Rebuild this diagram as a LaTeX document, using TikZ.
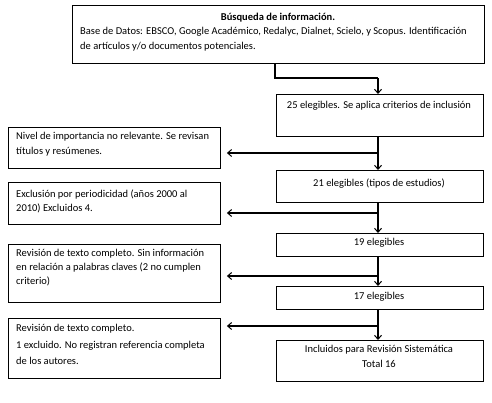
\documentclass[tikz,border=0pt]{standalone}
\usepackage{fontspec}
\setmainfont{Carlito}
\usetikzlibrary{arrows.meta}
\begin{document}
\begin{tikzpicture}[x=1pt,y=-1pt,
  box/.style={draw=black,line width=0.9pt,rectangle,inner sep=0pt},
  txt/.style={inner sep=0pt,anchor=north west,align=left,font=\fontsize{10.5}{14.2}\selectfont},
  ctxt/.style={inner sep=0pt,anchor=north,align=center,font=\fontsize{10.5}{15}\selectfont},
  arr/.style={line width=1.3pt,-{Straight Barb[length=4pt,width=7pt,line width=1pt]}}]
\useasboundingbox (0,0) rectangle (492,402);
% boxes
\node[box,minimum width=412pt,minimum height=58pt,anchor=north west] (T) at (72,5) {};
\node[box,minimum width=207pt,minimum height=42pt,anchor=north west] (B1) at (276,94) {};
\node[box,minimum width=207pt,minimum height=32pt,anchor=north west] (B2) at (276,170) {};
\node[box,minimum width=207pt,minimum height=23pt,anchor=north west] (B3) at (276,233) {};
\node[box,minimum width=207pt,minimum height=23pt,anchor=north west] (B4) at (276,286) {};
\node[box,minimum width=207pt,minimum height=41pt,anchor=north west] (B5) at (276,340) {};
\node[box,minimum width=212pt,minimum height=41pt,anchor=north west] (L1) at (8,127) {};
\node[box,minimum width=212pt,minimum height=42pt,anchor=north west] (L2) at (8,182) {};
\node[box,minimum width=212pt,minimum height=58pt,anchor=north west] (L3) at (8,244) {};
\node[box,minimum width=212pt,minimum height=60pt,anchor=north west] (L4) at (8,318) {};
% texts
\node[ctxt,font=\fontsize{10.5}{14}\selectfont\bfseries] (Tt) at (278,13) {Búsqueda de información.};
\node[txt] (Tb) at (80,27.5) {Base de Datos: EBSCO, Google Académico, Redalyc, Dialnet, Scielo, y Scopus. Identificación\\de artículos y/o documentos potenciales.};
\node[ctxt] (B1t) at (379,101.5) {25 elegibles. Se aplica criterios de inclusión};
\node[ctxt] (B2t) at (379,178.5) {21 elegibles (tipos de estudios)};
\node[ctxt] (B3t) at (379,238.5) {19 elegibles};
\node[ctxt] (B4t) at (379,292.5) {17 elegibles};
\node[ctxt] (B5t) at (379,345.5) {Incluidos para Revisión Sistemática\\Total 16};
\node[txt,font=\fontsize{10.5}{15}\selectfont] (L1t) at (16,132.5) {Nivel de importancia no relevante. Se revisan\\títulos y resúmenes.};
\node[txt] (L2t) at (16,189.5) {Exclusión por periodicidad (años 2000 al\\2010) Excluidos 4.};
\node[txt,font=\fontsize{10.5}{13.6}\selectfont] (L3t) at (16,249.5) {Revisión de texto completo. Sin información\\en relación a palabras claves (2 no cumplen\\criterio)};
\node[txt,font=\fontsize{10.5}{16.5}\selectfont] (L4t) at (16,324.5) {Revisión de texto completo.\\1 excluido. No registran referencia completa\\de los autores.};
% connectors
\coordinate (c1) at (275,78);
\coordinate (c2) at (378,78);
\draw[line width=1.8pt] (T.south -| c1) -- (c1) -- (c2);
\draw[arr] (c2) -- (B1.north -| c2);
\coordinate (h1) at (378,153);
\coordinate (h2) at (378,213);
\coordinate (h3) at (378,276);
\coordinate (h4) at (378,326);
\draw[arr] (B1.south -| h1) -- (B2.north -| h1);
\draw[arr] (B2.south -| h2) -- (B3.north -| h2);
\draw[arr] (B3.south -| h3) -- (B4.north -| h3);
\draw[arr] (B4.south -| h4) -- (B5.north -| h4);
\draw[arr,shorten >=6pt] (h1) -- (L1.east |- h1);
\draw[arr,shorten >=6pt] (h2) -- (L2.east |- h2);
\draw[arr,shorten >=6pt] (h3) -- (L3.east |- h3);
\draw[arr,shorten >=6pt] (h4) -- (L4.east |- h4);
\end{tikzpicture}
\end{document}
